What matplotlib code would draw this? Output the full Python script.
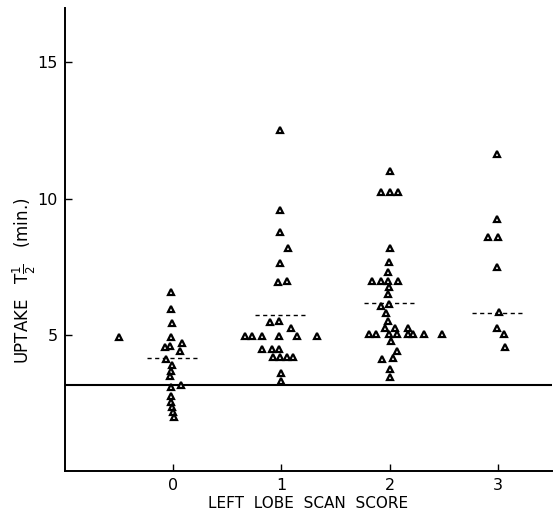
import matplotlib
matplotlib.use("Agg")
import matplotlib.pyplot as plt

# ---- data ----
score0_x = [-0.50, -0.02, -0.02, -0.01, -0.02, -0.08, -0.03, 0.08, 0.065, -0.07,
            -0.01, -0.02, -0.03, -0.02, 0.075, -0.02, -0.02, -0.01, 0.00, 0.01]
score0_y = [4.93, 6.59, 5.96, 5.44, 4.93, 4.56, 4.60, 4.70, 4.40, 4.11,
            3.89, 3.67, 3.49, 3.08, 3.15, 2.75, 2.53, 2.34, 2.16, 2.00]

score1_x = [0.99, 0.99, 0.99, 1.065, 0.99, 0.97, 1.055, 0.89, 0.98, 1.09,
            0.66, 0.73, 0.82, 0.98, 1.14, 1.33, 0.82, 0.91, 0.98,
            0.92, 0.99, 1.055, 1.11, 1.00, 1.00]
score1_y = [12.53, 9.58, 8.76, 8.17, 7.62, 6.95, 6.99, 5.48, 5.52, 5.26,
            4.96, 4.96, 4.96, 4.96, 4.96, 4.96, 4.48, 4.48, 4.48,
            4.19, 4.19, 4.19, 4.19, 3.60, 3.30]

score2_x = [2.00, 1.92, 2.00, 2.08, 2.00, 1.99, 1.98, 1.84, 1.92, 1.98, 2.08,
            1.99, 1.98, 1.92, 1.99, 1.97, 1.98, 1.96, 2.05, 2.17,
            1.81, 1.87, 1.99, 2.07, 2.17, 2.22, 2.32, 2.48,
            2.01, 2.065, 1.93, 2.03, 2.00, 2.00]
score2_y = [11.00, 10.24, 10.24, 10.24, 8.17, 7.66, 7.29, 6.99, 6.99, 6.99, 6.99,
            6.77, 6.51, 6.07, 6.14, 5.81, 5.52, 5.26, 5.26, 5.26,
            5.04, 5.04, 5.04, 5.04, 5.04, 5.04, 5.04, 5.04,
            4.78, 4.41, 4.11, 4.15, 3.74, 3.45]

score3_x = [2.99, 2.99, 2.91, 3.00, 2.99, 3.01, 2.99, 3.055, 3.065]
score3_y = [11.64, 9.24, 8.58, 8.58, 7.50, 5.85, 5.26, 5.04, 4.55]

categories = [0, 1, 2, 3]
tick_labels = ["0", "1", "2", "3"]
medians = [4.15, 5.74, 6.18, 5.81]
normal_limit = 3.15

# ---- figure ----
fig = plt.figure(figsize=(5.56, 5.16), dpi=100)
ax = fig.add_axes([65/556, 1-471/516, (552-65)/556, (471-8)/516])

for xs, ys in [(score0_x, score0_y), (score1_x, score1_y),
               (score2_x, score2_y), (score3_x, score3_y)]:
    ax.plot(xs, ys, linestyle="none", marker="^", markersize=5.0,
            markerfacecolor="white", markeredgecolor="black",
            markeredgewidth=1.6, zorder=3)

for c, m in zip(categories, medians):
    ax.plot([c - 0.24, c + 0.235], [m, m], color="black", lw=1.0,
            linestyle=(0, (3, 2.5)), zorder=2)

ax.axhline(normal_limit, color="black", lw=1.5, zorder=1)

ax.set_xlim(-1.0, 3.5)
ax.set_ylim(0, 17)
ax.spines["top"].set_visible(False)
ax.spines["right"].set_visible(False)
ax.spines["left"].set_linewidth(1.4)
ax.spines["bottom"].set_linewidth(1.4)

ax.set_xticks(categories)
ax.set_xticklabels(tick_labels)
ax.set_yticks([5, 10, 15])
ax.tick_params(axis="both", direction="in", length=5, width=1.0,
               labelsize=11.5, pad=5)

ax.set_xlabel("LEFT  LOBE  SCAN  SCORE", fontsize=11, labelpad=2)
ax.set_ylabel(r"UPTAKE   T$\frac{1}{2}$   (min.)", fontsize=12)
ax.yaxis.set_label_coords(-0.055, 0.41)

fig.savefig("out.png", dpi=100)
